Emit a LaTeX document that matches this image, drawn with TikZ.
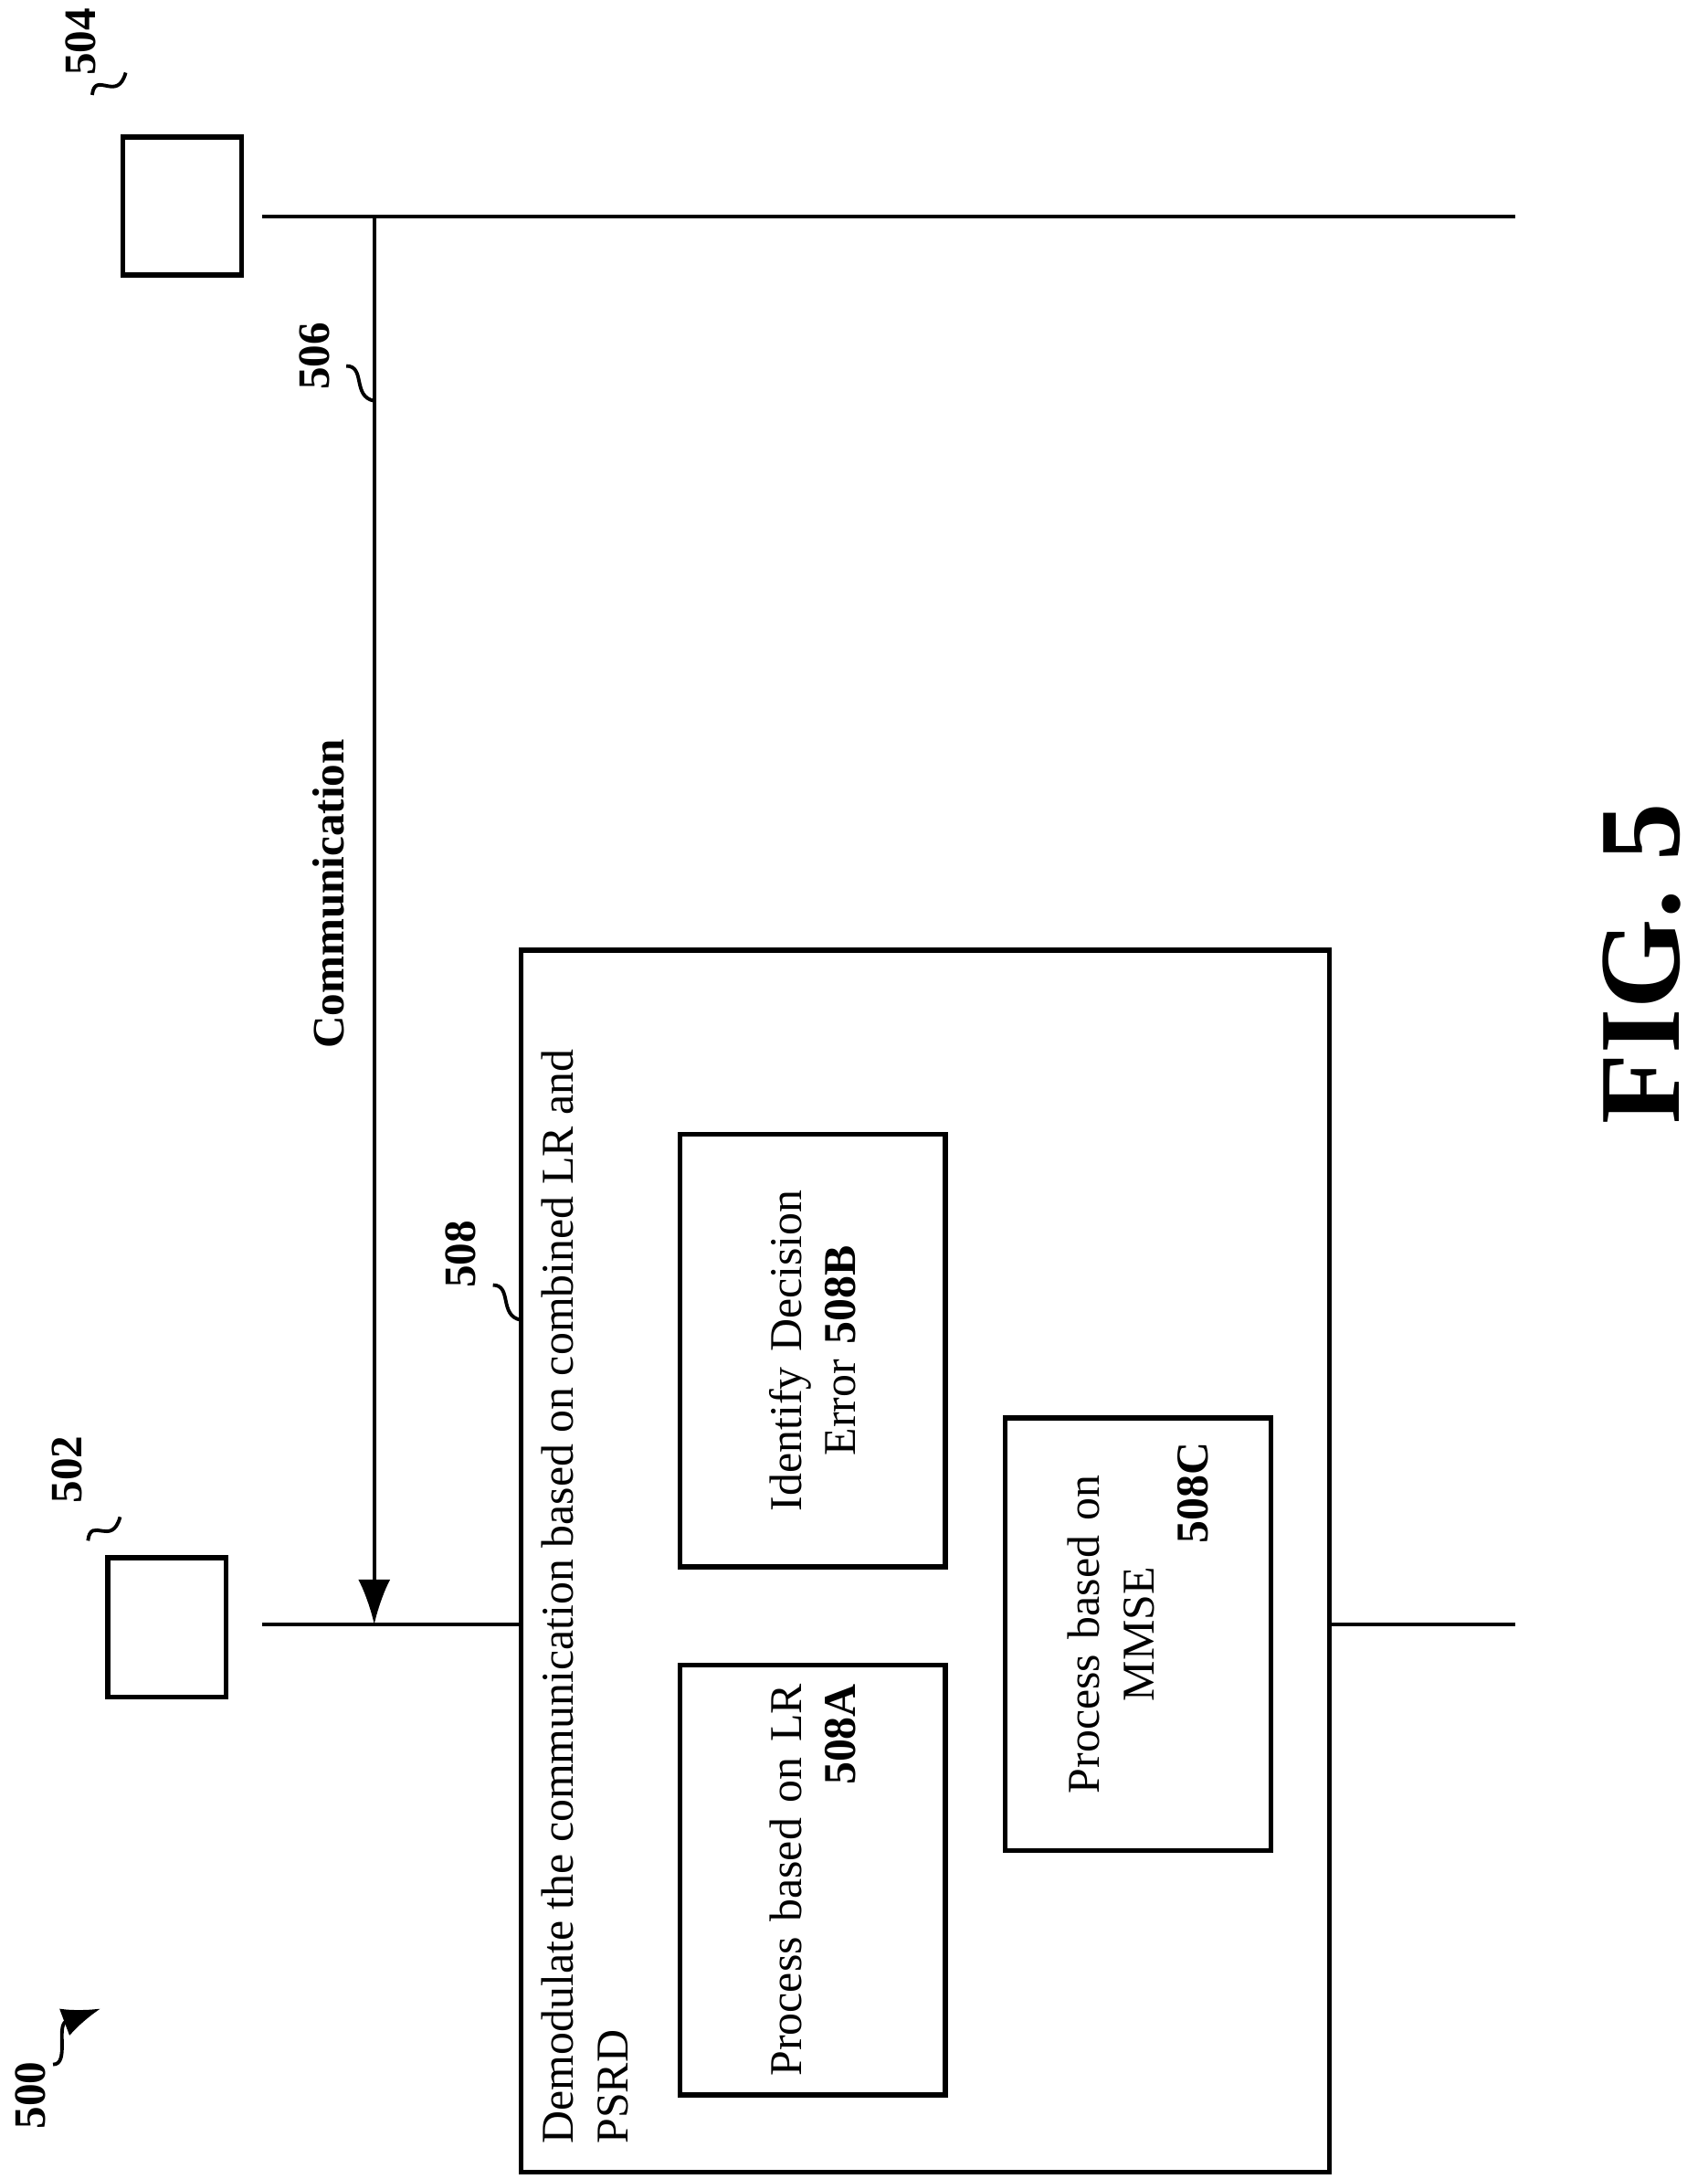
\documentclass[tikz,border=0pt]{standalone}
\usepackage{fontspec}
\setmainfont{Liberation Serif}
\usetikzlibrary{positioning, arrows.meta}

\begin{document}
\begin{tikzpicture}[x=0.0153cm, y=-0.0153cm, line width=1.1pt,
  box/.style={rectangle, draw, line width=1.6pt},
  txt/.style={rotate=90, font=\fontsize{14.2}{17}\selectfont},
  lbl/.style={rotate=90, font=\fontsize{14}{16}\selectfont\bfseries}]
  \useasboundingbox (0,0) rectangle (1223,1560);

  % devices
  \node (ue) [box, minimum width=1.30cm, minimum height=1.53cm] at (119.5,1165) {};
  \node (bs) [box, minimum width=1.30cm, minimum height=1.51cm] at (130.5,147.5) {};

  % lifelines
  \coordinate (bsl) at (188,155);
  \coordinate (bsr) at (1085,155);
  \coordinate (uel) at (188,1163);
  \coordinate (uer) at (1085,1163);
  \draw (bsl) -- (bsr);

  % block 508
  \node (demod) [box, minimum width=8.86cm, minimum height=13.39cm] at (662.5,1117.5) {};
  \draw (uel) -- (demod.west |- uel);
  \draw (demod.east |- uer) -- (uer);
  \node [txt, anchor=north west, text width=13cm, align=flush left] at ([xshift=0.12cm, yshift=0.2cm]demod.south west)
    {Demodulate the communication based on combined LR and PSRD};

  \node (idb) [box, minimum width=2.91cm, minimum height=4.74cm] at (582,967) {};
  \node [txt, text width=4.2cm, align=center] at (idb) {Identify Decision\\ Error \textbf{508B}};
  \node (lra) [box, minimum width=2.91cm, minimum height=4.71cm] at (582,1346) {};
  \node [txt, text width=4.3cm, align=center] at (lra) {Process based on LR\\ \hfill\textbf{508A}\hspace*{0.2cm}};
  \node (mmse) [box, minimum width=2.91cm, minimum height=4.74cm] at (815,1170) {};
  \node [txt, text width=4.2cm, align=center] at (mmse) {Process based on\\ MMSE\\ \hfill\textbf{508C}\hspace*{0.3cm}};

  % communication
  \coordinate (c1) at (268,155);
  \coordinate (c2) at (268,1163);
  \draw [-{Latex[length=14pt, width=10pt]}] (c1) -- (c2);
  \node [lbl] at (235,640) {Communication};

  % reference numerals
  \node [lbl] (n504) at (58,30) {504};
  \draw (66,68) .. controls (68,50) and (84,74) .. (90,52);
  \node [lbl] (n502) at (48,1052) {502};
  \draw (63,1103) .. controls (65,1085) and (80,1108) .. (86,1086);
  \node [lbl] (n506) at (225,255) {506};
  \draw (248,262) .. controls (262,262) and (252,284) .. (268,287);
  \node [lbl] (n508) at (330,898) {508};
  \draw (353,920) .. controls (367,920) and (357,942) .. (373,945);
  \node [lbl] (n500) at (22,1500) {500};
  \draw [-{Latex[length=12pt, width=9pt]}] (38,1478) .. controls (50,1478) and (40,1450) .. (72,1438);

  \node [rotate=90, font=\fontsize{36}{40}\selectfont\bfseries] (fig) at (1176,690) {FIG. 5};
\end{tikzpicture}
\end{document}
